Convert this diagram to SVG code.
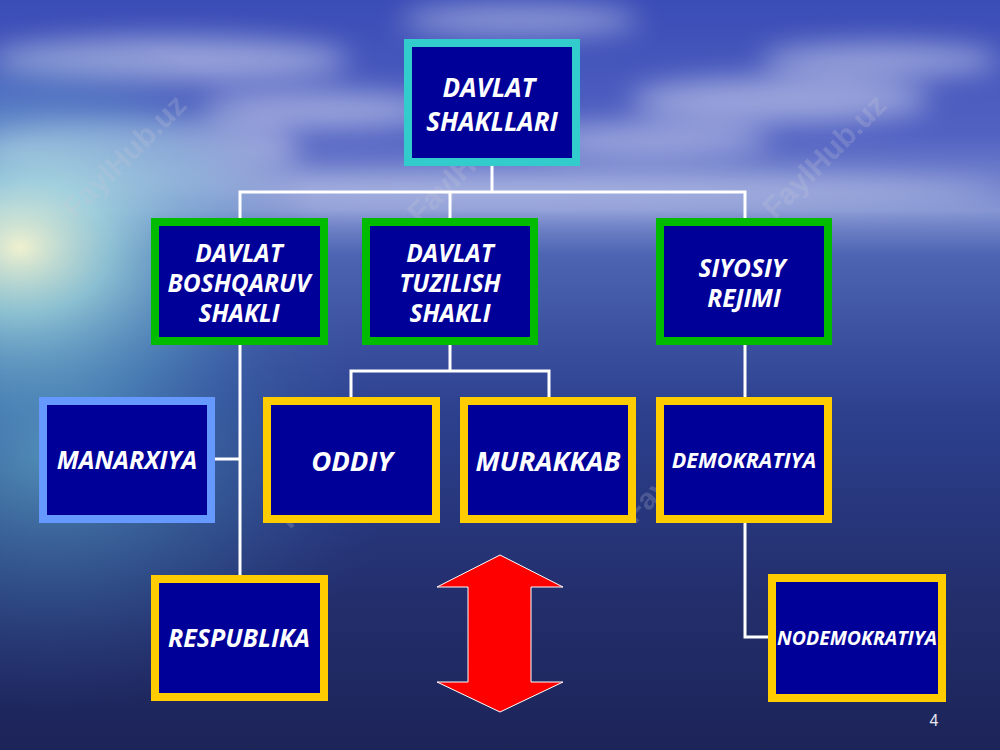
<svg xmlns="http://www.w3.org/2000/svg" width="1000" height="750" viewBox="0 0 1000 750">
<defs>
<linearGradient id="bg" x1="0" y1="0" x2="0" y2="1">
<stop offset="0" stop-color="#3a4cb6"/>
<stop offset="0.18" stop-color="#5262c2"/>
<stop offset="0.28" stop-color="#8494d2"/>
<stop offset="0.34" stop-color="#4c64b2"/>
<stop offset="0.55" stop-color="#2c408e"/>
<stop offset="0.8" stop-color="#232e6c"/>
<stop offset="1" stop-color="#1c2458"/>
</linearGradient>
<radialGradient id="glow" cx="0.02" cy="0.33" r="0.3">
<stop offset="0" stop-color="#f8f8d0" stop-opacity="0.95"/>
<stop offset="0.3" stop-color="#a8e4e0" stop-opacity="0.7"/>
<stop offset="0.7" stop-color="#5aa0c8" stop-opacity="0.3"/>
<stop offset="1" stop-color="#3b5ab0" stop-opacity="0"/>
</radialGradient>
<radialGradient id="sea" cx="0.05" cy="0.6" r="0.35">
<stop offset="0" stop-color="#6cc8d8" stop-opacity="0.6"/>
<stop offset="0.6" stop-color="#4a90c0" stop-opacity="0.25"/>
<stop offset="1" stop-color="#3b5ab0" stop-opacity="0"/>
</radialGradient>
<filter id="blur" x="-20%" y="-50%" width="140%" height="200%"><feGaussianBlur stdDeviation="14"/></filter>
<style>
.box{fill:#000099;stroke-width:8}
.cy{stroke:#33cccc}
.gr{stroke:#00bb00}
.lb{stroke:#6699ff}
.ye{stroke:#ffcc00}
.t{fill:#ffffff;font-family:"Open Sans","Noto Sans","DejaVu Sans",sans-serif;font-weight:bold;font-style:italic;text-anchor:middle}
.ln{fill:none;stroke:#ffffff;stroke-width:3}
.wm{fill:#c8c8d8;opacity:0.22;font-family:"Liberation Sans",Arial,sans-serif;font-weight:bold;font-size:30px}
</style>
</defs>
<rect width="1000" height="750" fill="url(#bg)"/>
<g filter="url(#blur)" fill="#dfe4f4" opacity="0.55">
<ellipse cx="170" cy="60" rx="180" ry="22"/>
<ellipse cx="140" cy="150" rx="160" ry="30"/>
<ellipse cx="320" cy="110" rx="120" ry="18"/>
<ellipse cx="780" cy="100" rx="150" ry="22"/>
<ellipse cx="880" cy="60" rx="120" ry="16"/>
<ellipse cx="650" cy="140" rx="120" ry="16"/>
<ellipse cx="520" cy="20" rx="120" ry="14"/>
<ellipse cx="500" cy="190" rx="500" ry="14"/>
</g>
<rect width="1000" height="750" fill="url(#sea)"/>
<rect width="1000" height="750" fill="url(#glow)"/>
<g>
<text class="wm" transform="translate(75,220) rotate(-45)">FaylHub.uz</text>
<text class="wm" transform="translate(420,225) rotate(-45)">FaylHub.uz</text>
<text class="wm" transform="translate(775,220) rotate(-45)">FaylHub.uz</text>
<text class="wm" transform="translate(290,530) rotate(-45)">FaylHub.uz</text>
<text class="wm" transform="translate(635,525) rotate(-45)">FaylHub.uz</text>
</g>
<g id="connectors">
<polyline class="ln" points="492,166 492,192"/>
<polyline class="ln" points="240,218 240,192 745,192 745,218"/>
<polyline class="ln" points="450,192 450,218"/>
<polyline class="ln" points="240,345 240,575"/>
<polyline class="ln" points="215,459 240,459"/>
<polyline class="ln" points="450,345 450,371"/>
<polyline class="ln" points="351,397 351,371 549,371 549,397"/>
<polyline class="ln" points="745,345 745,397"/>
<polyline class="ln" points="745,523 745,637 768,637"/>
</g>
<g id="n-root"><rect class="box cy" x="408" y="43" width="168" height="119"/><text class="t" font-size="26" x="489" y="97">DAVLAT</text><text class="t" font-size="26" x="492" y="131">SHAKLLARI</text></g>
<g id="n-boshqaruv"><rect class="box gr" x="155" y="222" width="169" height="119"/><text class="t" font-size="24.5" x="239" y="262">DAVLAT</text><text class="t" font-size="24.5" x="239" y="292">BOSHQARUV</text><text class="t" font-size="24.5" x="239" y="322">SHAKLI</text></g>
<g id="n-tuzilish"><rect class="box gr" x="366" y="222" width="168" height="119"/><text class="t" font-size="24.5" x="450" y="262">DAVLAT</text><text class="t" font-size="24.5" x="450" y="292">TUZILISH</text><text class="t" font-size="24.5" x="450" y="322">SHAKLI</text></g>
<g id="n-siyosiy"><rect class="box gr" x="660" y="222" width="168" height="119"/><text class="t" font-size="24.5" x="742" y="277">SIYOSIY </text><text class="t" font-size="24.5" x="744" y="307">REJIMI</text></g>
<g id="n-manarxiya"><rect class="box lb" x="43" y="401" width="168" height="118"/><text class="t" font-size="25" x="127" y="469">MANARXIYA</text></g>
<g id="n-oddiy"><rect class="box ye" x="267" y="401" width="169" height="118"/><text class="t" font-size="27.5" x="352" y="471">ODDIY</text></g>
<g id="n-murakkab"><rect class="box ye" x="464" y="401" width="168" height="118"/><text class="t" font-size="27.5" x="548" y="471">MURAKKAB</text></g>
<g id="n-demokratiya"><rect class="box ye" x="660" y="401" width="168" height="118"/><text class="t" font-size="21.5" x="744" y="468">DEMOKRATIYA</text></g>
<g id="n-respublika"><rect class="box ye" x="155" y="579" width="169" height="118"/><text class="t" font-size="25" x="239" y="647">RESPUBLIKA</text></g>
<g id="n-nodemokratiya"><rect class="box ye" x="772" y="578" width="170" height="120"/><text class="t" font-size="19.5" x="857" y="645">NODEMOKRATIYA</text></g>
<g id="arrow"><polygon points="500,555 563,587 531,587 531,682 563,682 500,712 437,682 468,682 468,587 437,587" fill="#ff0000" stroke="#ffffff" stroke-width="1"/></g>
<text x="934" y="726" font-family="'Liberation Sans',Arial,sans-serif" font-size="16" fill="#e8e8f0" text-anchor="middle">4</text>
</svg>
